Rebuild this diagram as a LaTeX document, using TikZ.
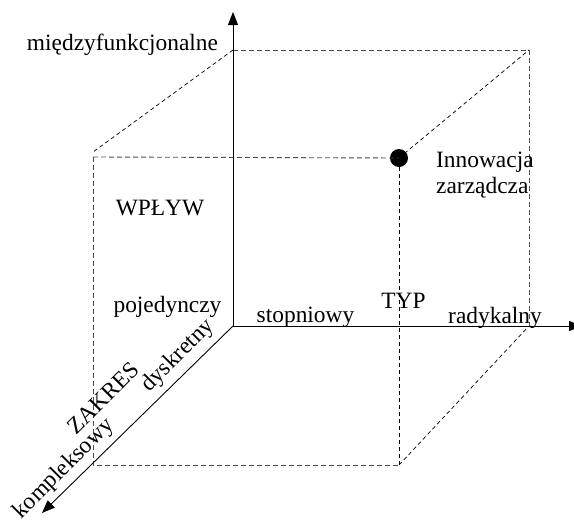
\documentclass[tikz,border=0pt]{standalone}
\usepackage{fontspec}
\setmainfont{Liberation Serif}
\usetikzlibrary{arrows.meta}
\tikzset{
  axis/.style={line width=0.9pt,-{Triangle[length=13pt,width=10pt]}},
  edge/.style={line width=0.9pt,dash pattern=on 5pt off 3pt,black!70},
  diag/.style={line width=0.7pt,dash pattern=on 4pt off 3pt,black},
  lbl/.style={font=\fontsize{23.4}{26}\selectfont,inner sep=0pt},
}
\begin{document}
\begin{tikzpicture}[x=1pt,y=-1pt]
\useasboundingbox (0,0) rectangle (574,520);
% axes
\coordinate (O) at (233,326);
\coordinate (Ytip) at (233,12);
\coordinate (Xtip) at (582,326);
\coordinate (Ztip) at (42,513);
% cube corners
\coordinate (BTL) at (233,50);
\coordinate (BTR) at (529,50);
\coordinate (BBR) at (529,326);
\coordinate (FTLd) at (93,152);
\coordinate (FTL) at (93,157);
\coordinate (FBL) at (93,465);
\coordinate (FBR) at (399,465);
\node[circle,fill=black,inner sep=0pt,minimum size=18pt] (dot) at (399,158) {};
% dashed edges
\draw[edge] (BTL) -- (BTR) -- (BBR);
\draw[diag] (BTL) -- (FTLd);
\draw[edge] (FTL) -- (dot.center);
\draw[edge] (FTL) -- (FBL) -- (FBR);
\draw[diag] (FBR) -- (dot.center);
\draw[diag] (dot.center) -- (BTR);
\draw[diag] (FBR) -- (BBR);
% solid axes
\draw[axis] (O) -- (Ytip);
\draw[axis] (O) -- (Xtip);
\draw[axis] (O) -- (Ztip);
% labels
\node[lbl,anchor=base] (mf) at (122.5,50) {międzyfunkcjonalne};
\node[lbl,anchor=base] (wp) at (160,215) {WPŁYW};
\node[lbl,anchor=base] (pj) at (167.5,312) {pojedynczy};
\node[lbl,anchor=base] (st) at (305.5,322) {stopniowy};
\node[lbl,anchor=base] (typ) at (403.5,308) {TYP};
\node[lbl,anchor=base] (rad) at (495,323) {radykalny};
\node[lbl,anchor=base west] (inn) at (436,167) {Innowacja};
\node[lbl,anchor=base west] (zar) at (436,193) {zarządcza};
\node[lbl,rotate=45] (zak) at (103,398) {ZAKRES};
\node[lbl,rotate=45] (kom) at (64,469) {kompleksowy};
\node[lbl,rotate=45] (dys) at (178,356) {dyskretny};
\end{tikzpicture}
\end{document}
